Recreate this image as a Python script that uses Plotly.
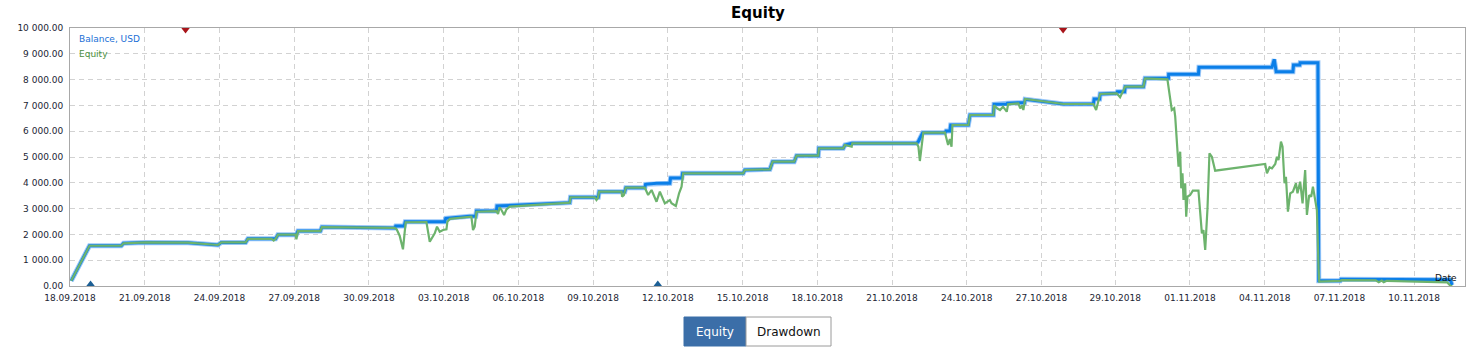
import plotly.graph_objects as go

# ---------------- data ----------------
balance_time = [
    "2018-09-18 01:10", "2018-09-18 18:48", "2018-09-20 01:24", "2018-09-20 03:36", "2018-09-21 00:48",
    "2018-09-22 17:36", "2018-09-23 22:30", "2018-09-24 01:48", "2018-09-25 01:12", "2018-09-25 03:24",
    "2018-09-26 06:06", "2018-09-26 08:18", "2018-09-27 02:06", "2018-09-27 03:36", "2018-09-28 01:12",
    "2018-09-28 02:42", "2018-10-01 00:48", "2018-10-01 01:48", "2018-10-01 10:00", "2018-10-01 11:00",
    "2018-10-03 01:00", "2018-10-03 02:00", "2018-10-04 01:06", "2018-10-04 06:54", "2018-10-04 07:36",
    "2018-10-05 02:54", "2018-10-05 03:24", "2018-10-08 01:30", "2018-10-08 02:12", "2018-10-09 01:36",
    "2018-10-09 05:00", "2018-10-09 05:48", "2018-10-10 03:24", "2018-10-10 06:30", "2018-10-10 07:30",
    "2018-10-11 01:48", "2018-10-11 02:30", "2018-10-11 13:06", "2018-10-12 01:54", "2018-10-12 02:36",
    "2018-10-12 13:30", "2018-10-12 14:12", "2018-10-15 00:36", "2018-10-15 02:12", "2018-10-16 02:18",
    "2018-10-16 04:54", "2018-10-17 01:42", "2018-10-17 04:00", "2018-10-18 00:54", "2018-10-18 01:30",
    "2018-10-19 01:00", "2018-10-19 02:36", "2018-10-19 09:24", "2018-10-21 23:42", "2018-10-22 01:18",
    "2018-10-22 05:30", "2018-10-23 03:00", "2018-10-23 04:00", "2018-10-23 07:42", "2018-10-23 08:30",
    "2018-10-24 01:30", "2018-10-24 03:06", "2018-10-25 01:36", "2018-10-25 02:18", "2018-10-25 14:30",
    "2018-10-25 15:06", "2018-10-26 01:42", "2018-10-26 07:42", "2018-10-26 08:12", "2018-10-27 21:06",
    "2018-10-29 02:00", "2018-10-29 02:42", "2018-10-29 08:00", "2018-10-29 08:30", "2018-10-30 00:30",
    "2018-10-30 01:06", "2018-10-30 08:00", "2018-10-30 08:36", "2018-10-31 02:12", "2018-10-31 03:48",
    "2018-11-01 02:18", "2018-11-01 02:30", "2018-11-02 07:12", "2018-11-02 07:42", "2018-11-05 06:00",
    "2018-11-05 08:12", "2018-11-05 10:06", "2018-11-06 02:12", "2018-11-06 02:48", "2018-11-06 08:48",
    "2018-11-06 09:12", "2018-11-07 02:18", "2018-11-07 03:06", "2018-11-07 23:48", "2018-11-08 00:30",
    "2018-11-12 09:54", "2018-11-12 11:30",
]
balance_usd = [
    200, 1560, 1560, 1655, 1690,
    1680, 1590, 1690, 1690, 1830,
    1830, 1990, 1990, 2130, 2130,
    2285, 2250, 2330, 2330, 2490,
    2490, 2624, 2700, 2700, 2907,
    2907, 3100, 3230, 3440, 3440,
    3440, 3655, 3655, 3655, 3810,
    3810, 3942, 3980, 3980, 4186,
    4186, 4368, 4368, 4496, 4523,
    4818, 4818, 5050, 5050, 5337,
    5337, 5465, 5531, 5531, 5600,
    5942, 5942, 6010, 6010, 6240,
    6240, 6628, 6628, 7043, 7043,
    7081, 7105, 7105, 7236, 7054,
    7054, 7248, 7248, 7442, 7469,
    7531, 7531, 7725, 7725, 8050,
    8050, 8205, 8205, 8477, 8477,
    8787, 8306, 8306, 8566, 8566,
    8655, 8655, 200, 200, 260,
    240, 40,
]

equity_time = [
    "2018-09-18 01:10", "2018-09-18 18:48", "2018-09-20 01:24", "2018-09-20 03:36", "2018-09-21 00:48",
    "2018-09-22 17:36", "2018-09-23 22:30", "2018-09-24 01:48", "2018-09-25 01:12", "2018-09-25 03:24",
    "2018-09-26 02:12", "2018-09-26 04:12", "2018-09-26 06:06", "2018-09-26 08:18", "2018-09-27 01:24",
    "2018-09-27 02:06", "2018-09-27 03:36", "2018-09-28 01:12", "2018-09-28 02:42", "2018-10-01 00:48",
    "2018-10-01 02:42", "2018-10-01 05:36", "2018-10-01 08:48", "2018-10-01 11:24", "2018-10-02 07:24",
    "2018-10-02 10:36", "2018-10-02 15:24", "2018-10-02 17:36", "2018-10-02 20:12", "2018-10-02 23:24",
    "2018-10-03 02:42", "2018-10-03 03:36", "2018-10-03 06:00", "2018-10-04 01:06", "2018-10-04 02:42",
    "2018-10-04 04:18", "2018-10-04 05:54", "2018-10-04 07:36", "2018-10-05 02:54", "2018-10-05 04:24",
    "2018-10-05 06:00", "2018-10-05 07:42", "2018-10-05 10:12", "2018-10-05 12:30", "2018-10-05 15:42",
    "2018-10-08 01:30", "2018-10-08 02:12", "2018-10-09 01:36", "2018-10-09 03:12", "2018-10-09 04:30",
    "2018-10-09 05:48", "2018-10-10 03:24", "2018-10-10 03:54", "2018-10-10 05:36", "2018-10-10 07:30",
    "2018-10-11 01:48", "2018-10-11 05:00", "2018-10-11 08:18", "2018-10-11 13:06", "2018-10-11 16:18",
    "2018-10-11 21:06", "2018-10-12 01:54", "2018-10-12 03:30", "2018-10-12 07:42", "2018-10-12 10:48",
    "2018-10-12 13:12", "2018-10-12 14:42", "2018-10-15 00:36", "2018-10-15 02:12", "2018-10-16 02:18",
    "2018-10-16 04:54", "2018-10-17 01:42", "2018-10-17 04:00", "2018-10-18 00:54", "2018-10-18 01:30",
    "2018-10-19 01:00", "2018-10-19 02:36", "2018-10-19 09:06", "2018-10-19 09:42", "2018-10-21 23:42",
    "2018-10-22 01:24", "2018-10-22 02:48", "2018-10-22 04:24", "2018-10-22 06:06", "2018-10-23 03:00",
    "2018-10-23 04:18", "2018-10-23 06:00", "2018-10-23 07:42", "2018-10-23 09:18", "2018-10-23 10:12",
    "2018-10-24 01:30", "2018-10-24 03:06", "2018-10-25 01:36", "2018-10-25 02:18", "2018-10-25 05:12",
    "2018-10-25 08:00", "2018-10-25 10:54", "2018-10-25 14:30", "2018-10-25 15:48", "2018-10-26 01:42",
    "2018-10-26 03:30", "2018-10-26 05:18", "2018-10-26 06:30", "2018-10-26 08:12", "2018-10-27 21:06",
    "2018-10-29 02:00", "2018-10-29 04:36", "2018-10-29 08:30", "2018-10-30 00:30", "2018-10-30 03:42",
    "2018-10-30 08:36", "2018-10-31 02:12", "2018-10-31 03:48", "2018-11-01 01:18", "2018-11-01 03:54",
    "2018-11-01 05:30", "2018-11-01 07:48", "2018-11-01 08:48", "2018-11-01 12:00", "2018-11-01 13:36",
    "2018-11-01 14:36", "2018-11-01 15:48", "2018-11-01 16:48", "2018-11-01 18:24", "2018-11-01 19:24",
    "2018-11-01 20:36", "2018-11-01 23:12", "2018-11-02 01:48", "2018-11-02 07:12", "2018-11-02 08:48",
    "2018-11-02 10:30", "2018-11-02 12:00", "2018-11-02 13:42", "2018-11-02 15:54", "2018-11-02 17:48",
    "2018-11-02 20:06", "2018-11-02 23:18", "2018-11-04 23:30", "2018-11-05 01:12", "2018-11-05 03:42",
    "2018-11-05 06:00", "2018-11-05 09:12", "2018-11-05 10:48", "2018-11-05 12:18", "2018-11-05 14:42",
    "2018-11-05 16:12", "2018-11-05 18:06", "2018-11-05 19:30", "2018-11-05 21:24", "2018-11-05 23:36",
    "2018-11-06 02:12", "2018-11-06 05:06", "2018-11-06 06:36", "2018-11-06 09:12", "2018-11-06 11:30",
    "2018-11-06 14:00", "2018-11-06 15:42", "2018-11-06 17:54", "2018-11-06 19:48", "2018-11-06 21:30",
    "2018-11-06 23:00", "2018-11-07 01:18", "2018-11-07 02:54", "2018-11-07 03:36", "2018-11-07 23:48",
    "2018-11-08 01:12", "2018-11-09 10:00", "2018-11-09 12:54", "2018-11-09 15:48", "2018-11-09 17:42",
    "2018-11-09 20:36", "2018-11-12 00:12", "2018-11-12 07:00", "2018-11-12 09:54", "2018-11-12 11:48",
]
equity_usd = [
    200, 1560, 1560, 1655, 1690,
    1680, 1590, 1690, 1690, 1830,
    1830, 1760, 1830, 1990, 1990,
    1810, 2130, 2130, 2285, 2250,
    2200, 1950, 1422, 2470, 2480,
    1717, 2043, 2298, 2105, 2171,
    2198, 2492, 2600, 2700, 2686,
    2171, 2300, 2880, 2900, 2791,
    3050, 2946, 2752, 2973, 3080,
    3230, 3440, 3440, 3333, 3400,
    3655, 3655, 3461, 3520, 3810,
    3810, 3527, 3721, 3267, 3655,
    3205, 3333, 3205, 3101, 3593,
    3849, 4368, 4368, 4496, 4523,
    4818, 4818, 5050, 5050, 5337,
    5337, 5465, 5400, 5531, 5531,
    5400, 4845, 5300, 5942, 5942,
    5700, 5465, 5700, 5400, 6240,
    6240, 6628, 6628, 7000, 6888,
    6822, 6950, 6756, 7040, 7080,
    6888, 7000, 6822, 7248, 7054,
    7054, 6822, 7442, 7469, 7314,
    7725, 7725, 8050, 8012, 7337,
    6822, 6888, 6562, 4624, 5206,
    3787, 4368, 3333, 3981, 2686,
    3461, 3527, 3694, 3694, 2946,
    2043, 2171, 1395, 3011, 5143,
    5012, 4469, 4729, 4368, 4601,
    4562, 4729, 5012, 4884, 5593,
    5400, 3981, 4237, 2880, 3593,
    3655, 3981, 3593, 4043, 3205,
    4496, 2752, 3527, 3461, 3849,
    3527, 2946, 686, 170, 200,
    230, 220, 150, 210, 150,
    200, 170, 140, 10, 0,
]

deposit_time = ["2018-09-18 19:48", "2018-10-11 14:18"]
withdrawal_time = ["2018-09-22 15:18", "2018-10-27 20:48"]

tick_dates = [
    "2018-09-18", "2018-09-21", "2018-09-24", "2018-09-27", "2018-09-30", "2018-10-03",
    "2018-10-06", "2018-10-09", "2018-10-12", "2018-10-15", "2018-10-18", "2018-10-21",
    "2018-10-24", "2018-10-27", "2018-10-29 23:00", "2018-11-01 23:00", "2018-11-04 23:00",
    "2018-11-07 23:00", "2018-11-10 23:00",
]
tick_labels = [
    "18.09.2018", "21.09.2018", "24.09.2018", "27.09.2018", "30.09.2018", "03.10.2018",
    "06.10.2018", "09.10.2018", "12.10.2018", "15.10.2018", "18.10.2018", "21.10.2018",
    "24.10.2018", "27.10.2018", "29.10.2018", "01.11.2018", "04.11.2018", "07.11.2018",
    "10.11.2018",
]
y_ticks = [0, 1000, 2000, 3000, 4000, 5000, 6000, 7000, 8000, 9000, 10000]

assert len(balance_time) == len(balance_usd)
assert len(equity_time) == len(equity_usd)

# ---------------- figure ----------------
FONT = "DejaVu Sans"
BLUE = "#0b7fe8"
GREEN = "#6db36d"

fig = go.Figure()
fig.add_trace(go.Scatter(x=balance_time, y=balance_usd, mode="lines",
                         line=dict(color="rgba(120,180,245,0.75)", width=5),
                         hoverinfo="skip", showlegend=False))
fig.add_trace(go.Scatter(x=balance_time, y=balance_usd, mode="lines", name="Balance, USD",
                         line=dict(color=BLUE, width=3), showlegend=False))
fig.add_trace(go.Scatter(x=equity_time, y=equity_usd, mode="lines", name="Equity",
                         line=dict(color=GREEN, width=2.2), showlegend=False))
fig.add_trace(go.Scatter(x=deposit_time, y=[0] * len(deposit_time), mode="markers",
                         marker=dict(symbol="triangle-up", size=11, color="#1c5f95"),
                         showlegend=False, cliponaxis=True))
fig.add_trace(go.Scatter(x=withdrawal_time, y=[10000] * len(withdrawal_time), mode="markers",
                         marker=dict(symbol="triangle-down", size=11, color="#a8141a"),
                         showlegend=False, cliponaxis=True))

# plot area in pixels: x 70..1465, y 28..286
def px_x(p):
    return (p - 70) / 1395.0

def px_y(p):
    return (286 - p) / 258.0

shapes = [
    dict(type="rect", xref="paper", yref="paper", x0=px_x(684), x1=px_x(746),
         y0=px_y(346), y1=px_y(317), fillcolor="#3b6ea8", line=dict(color="#3b6ea8", width=1)),
    dict(type="rect", xref="paper", yref="paper", x0=px_x(746), x1=px_x(831),
         y0=px_y(346), y1=px_y(317), fillcolor="white", line=dict(color="#9a9a9a", width=1)),
]

annotations = [
    dict(text="Balance, USD", xref="paper", yref="paper", x=0, y=1, xanchor="left", yanchor="middle",
         xshift=7, yshift=-11, showarrow=False, font=dict(family=FONT, size=9, color="#1a6fd6")),
    dict(text="Equity", xref="paper", yref="paper", x=0, y=1, xanchor="left", yanchor="middle",
         xshift=7, yshift=-26, showarrow=False, font=dict(family=FONT, size=9, color="#4c8f3c")),
    dict(text="Date", xref="paper", yref="paper", x=1, y=0, xanchor="right", yanchor="middle",
         xshift=-6, yshift=8, showarrow=False, font=dict(family=FONT, size=9, color="#111")),
    dict(text="Equity", xref="paper", yref="paper", x=px_x(715), y=px_y(331.5), xanchor="center",
         yanchor="middle", showarrow=False, font=dict(family=FONT, size=12, color="white")),
    dict(text="Drawdown", xref="paper", yref="paper", x=px_x(788.5), y=px_y(331.5), xanchor="center",
         yanchor="middle", showarrow=False, font=dict(family=FONT, size=12, color="#111")),
]

fig.update_layout(
    width=1470, height=362,
    margin=dict(l=70, r=5, t=28, b=76),
    paper_bgcolor="white", plot_bgcolor="white",
    separators=". ",
    font=dict(family=FONT, size=9, color="#1b2533"),
    title=dict(text="<b>Equity</b>", x=px_x(758), xref="paper", xanchor="center",
               y=1 - 13 / 362, yref="container", yanchor="middle",
               font=dict(family=FONT, size=15, color="#000")),
    shapes=shapes,
    annotations=annotations,
    hovermode=False,
)
fig.update_xaxes(
    type="date", range=["2018-09-18 00:00", "2018-11-13 00:00"],
    tickmode="array", tickvals=tick_dates, ticktext=tick_labels,
    showgrid=True, gridcolor="#d2d2d2", gridwidth=1, griddash="5px,4px",
    showline=True, mirror=True, linecolor="#a8a8a8", linewidth=1,
    ticks="outside", ticklen=3, tickcolor="rgba(0,0,0,0)",
    tickfont=dict(family=FONT, size=9, color="#1b2533"), zeroline=False,
)
fig.update_yaxes(
    range=[0, 10000], tickmode="array", tickvals=y_ticks, tickformat=",.2f",
    showgrid=True, gridcolor="#d2d2d2", gridwidth=1, griddash="5px,4px",
    showline=True, mirror=True, linecolor="#a8a8a8", linewidth=1,
    ticks="outside", ticklen=4, tickcolor="rgba(0,0,0,0)",
    tickfont=dict(family=FONT, size=9, color="#1b2533"), zeroline=False,
)

fig.write_html("out.html", config={"displayModeBar": False},
               post_script="document.body.style.margin='0px';")
